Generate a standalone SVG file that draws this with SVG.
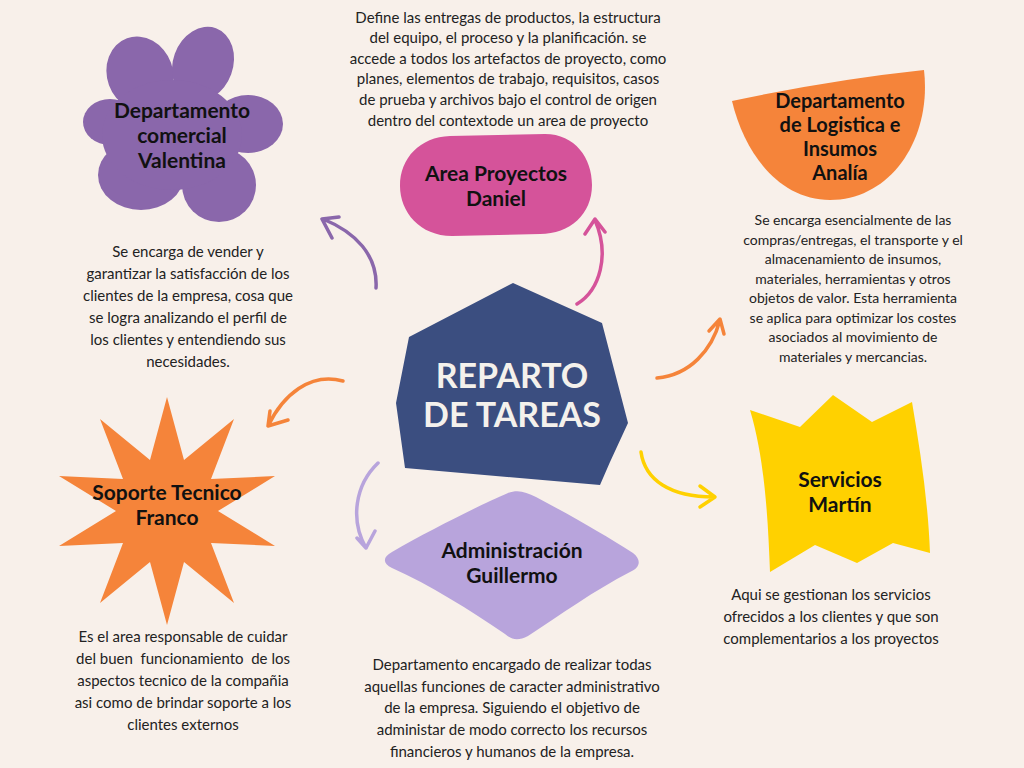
<svg xmlns="http://www.w3.org/2000/svg" width="1024" height="768" viewBox="0 0 1024 768">
<style>
.t{font-family:Lato,"Liberation Sans",sans-serif;font-size:15px;fill:#222;text-anchor:middle;white-space:pre}
.ts{font-size:14px}
.h{font-family:Lato,"Liberation Sans",sans-serif;font-size:21px;font-weight:700;fill:#111;text-anchor:middle}
.hs{font-size:20px}
.c{font-family:Lato,"Liberation Sans",sans-serif;font-size:34px;font-weight:700;fill:#F4F1EC;text-anchor:middle}
.a{fill:none;stroke-width:3.5;stroke-linecap:round;stroke-linejoin:round}
</style>
<rect width="1024" height="768" fill="#F8F0EA"/>

<g id="connectors">
  <path class="a" stroke="#8A67AB" d="M376,288 C378,255 355,232 323,219 M332,238 L322,219 L339,217"/>
  <path class="a" stroke="#D5539A" d="M577,304 C600,290 610,255 595,220 M585,234 L595,219 L605,232"/>
  <path class="a" stroke="#F5843A" d="M343,381 C310,372 283,395 268,426 M270,411 L268,426 L288,420"/>
  <path class="a" stroke="#B8A4DC" d="M378,463 C355,485 350,520 366,548 M357,538 L366,548 L375,531"/>
  <path class="a" stroke="#F5843A" d="M657,378 C690,375 712,350 720,320 M709,331 L720,319 L724,334"/>
  <path class="a" stroke="#FFD100" d="M641,452 C645,480 670,497 714,497 M700,486 L715,497 L700,507"/>
</g>

<g id="center">
  <polygon fill="#3B4E80" points="513,283 602,323 628,423 610,462 600,485 405,468 396,403 409,337"/>
  <text class="c" x="512" y="388">REPARTO</text>
  <text class="c" x="512" y="427">DE TAREAS</text>
</g>

<g id="comercial">
  <g fill="#8A67AB">
    <ellipse cx="140" cy="74" rx="33" ry="38" transform="rotate(-20 140 74)"/>
    <ellipse cx="203" cy="64" rx="30" ry="38" transform="rotate(20 203 64)"/>
    <ellipse cx="248" cy="124" rx="35" ry="29"/>
    <ellipse cx="219" cy="185" rx="37" ry="37"/>
    <ellipse cx="141" cy="175" rx="43" ry="35"/>
    <ellipse cx="110" cy="122" rx="27" ry="23"/>
    <ellipse cx="172" cy="135" rx="70" ry="55"/>
  </g>
  <text class="h" x="182" y="118">Departamento</text>
  <text class="h" x="182" y="143">comercial</text>
  <text class="h" x="182" y="168">Valentina</text>
  <text class="t" x="188" y="257">Se encarga de vender y</text>
  <text class="t" x="188" y="279">garantizar la satisfacción de los</text>
  <text class="t" x="188" y="301">clientes de la empresa, cosa que</text>
  <text class="t" x="188" y="323">se logra analizando el perfil de</text>
  <text class="t" x="188" y="345">los clientes y entendiendo sus</text>
  <text class="t" x="188" y="367">necesidades.</text>
</g>

<g id="proyectos">
  <path fill="#D5539A" d="M450,136 L545,134 C575,134 592,158 592,185 C592,214 570,234 540,234 L452,236 C420,236 400,212 400,186 C400,158 420,137 450,136 Z"/>
  <text class="h" x="496" y="181">Area Proyectos</text>
  <text class="h" x="496" y="206">Daniel</text>
  <text class="t" x="508" y="23">Define las entregas de productos, la estructura</text>
  <text class="t" x="508" y="43">del equipo, el proceso y la planificación. se</text>
  <text class="t" x="508" y="64">accede a todos los artefactos de proyecto, como</text>
  <text class="t" x="508" y="84">planes, elementos de trabajo, requisitos, casos</text>
  <text class="t" x="508" y="105">de prueba y archivos bajo el control de origen</text>
  <text class="t" x="508" y="126">dentro del contextode un area de proyecto</text>
</g>

<g id="logistica">
  <path fill="#F5843A" d="M732,101 Q830,80 924,70 C932,140 890,200 830,200 C780,200 745,155 732,101 Z"/>
  <text class="h hs" x="840" y="108">Departamento</text>
  <text class="h hs" x="840" y="132">de Logistica e</text>
  <text class="h hs" x="840" y="156">Insumos</text>
  <text class="h hs" x="840" y="180">Analía</text>
  <text class="t ts" x="853" y="225">Se encarga esencialmente de las</text>
  <text class="t ts" x="853" y="245">compras/entregas, el transporte y el</text>
  <text class="t ts" x="853" y="264">almacenamiento de insumos,</text>
  <text class="t ts" x="853" y="284">materiales, herramientas y otros</text>
  <text class="t ts" x="853" y="303">objetos de valor. Esta herramienta</text>
  <text class="t ts" x="853" y="323">se aplica para optimizar los costes</text>
  <text class="t ts" x="853" y="342">asociados al movimiento de</text>
  <text class="t ts" x="853" y="362">materiales y mercancias.</text>
</g>

<g id="soporte">
  <polygon fill="#F5843A" points="167,397 184,460 234,419 211,479 275,476 218,511 275,546 211,543 234,603 184,562 167,625 150,562 100,603 123,543 59,546 116,511 59,476 123,479 100,419 150,460"/>
  <text class="h" x="167" y="500">Soporte Tecnico</text>
  <text class="h" x="167" y="525">Franco</text>
  <text class="t" x="183" y="642">Es el area responsable de cuidar</text>
  <text class="t" x="183" y="664">del buen  funcionamiento  de los</text>
  <text class="t" x="183" y="686">aspectos tecnico de la compañia</text>
  <text class="t" x="183" y="708">asi como de brindar soporte a los</text>
  <text class="t" x="183" y="730">clientes externos</text>
</g>

<g id="administracion">
  <path fill="#B8A4DC" d="M392,552 C430,530 480,505 508,493 C518,489 526,492 536,497 C570,515 605,535 633,553 C642,560 640,568 630,572 C595,590 560,615 528,636 C518,641 512,640 505,634 C470,610 430,585 392,568 C382,563 383,557 392,552 Z"/>
  <text class="h" x="512" y="558">Administración</text>
  <text class="h" x="512" y="583">Guillermo</text>
  <text class="t" x="512" y="670">Departamento encargado de realizar todas</text>
  <text class="t" x="512" y="692">aquellas funciones de caracter administrativo</text>
  <text class="t" x="512" y="713">de la empresa. Siguiendo el objetivo de</text>
  <text class="t" x="512" y="735">administar de modo correcto los recursos</text>
  <text class="t" x="512" y="757">financieros y humanos de la empresa.</text>
</g>

<g id="servicios">
  <path fill="#FFD100" d="M750,410 L800,427 L833,395 L872,422 L912,402 C920,450 928,500 930,553 L893,543 L857,563 L815,545 L770,572 C768,520 765,460 750,410 Z"/>
  <text class="h" x="840" y="487">Servicios</text>
  <text class="h" x="840" y="512">Martín</text>
  <text class="t" x="831" y="600">Aqui se gestionan los servicios</text>
  <text class="t" x="831" y="622">ofrecidos a los clientes y que son</text>
  <text class="t" x="831" y="644">complementarios a los proyectos</text>
</g>
</svg>
